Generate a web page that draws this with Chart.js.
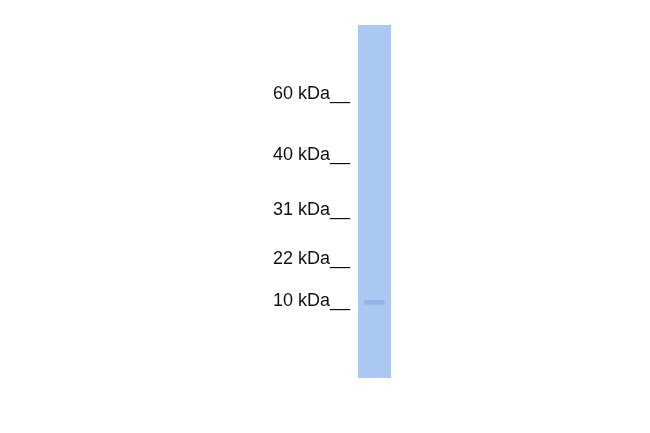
<!DOCTYPE html>
<html><head><meta charset="utf-8">
<script src="https://cdn.jsdelivr.net/npm/chart.js@4"></script>
<style>html,body{margin:0;padding:0;background:#fff}#w{width:650px;height:433px}</style>
</head><body><div id="w"><canvas id="c"></canvas></div>
<script>
// Marker sizes (kDa) and their relative migration (0 = top of lane, 1 = bottom)
const markerKDa = [60, 40, 31, 22, 10];
const markerMobility = [0.196, 0.367, 0.525, 0.662, 0.783];
const markerLabels = markerKDa.map(v => v + ' kDa__');
// Lane extent and observed band (relative migration)
const laneRange = [0, 1];
const bandRange = [0.779, 0.792];

new Chart(document.getElementById('c'), {
  type: 'bar',
  data: {
    labels: ['Lane'],
    datasets: [
      { data: [laneRange], backgroundColor: '#abc8f2', barPercentage: 1, categoryPercentage: 1, grouped: false, order: 2 },
      { data: [bandRange], backgroundColor: 'rgba(120,145,210,0.4)', barPercentage: 0.62, categoryPercentage: 1, grouped: false, order: 1 }
    ]
  },
  options: {
    responsive: true, maintainAspectRatio: false, animation: false,
    layout: { padding: { left: 268, right: 259, top: 25, bottom: 55 } },
    plugins: { legend: { display: false }, tooltip: { enabled: false } },
    scales: {
      x: { display: false },
      y: {
        reverse: true, min: 0, max: 1,
        grid: { display: false, drawTicks: false }, border: { display: false },
        afterFit: s => { s.width = 90; },
        afterBuildTicks: s => { s.ticks = markerMobility.map(v => ({ value: v })); },
        ticks: {
          padding: 8, color: '#111',
          font: { family: 'Liberation Sans, Arial, sans-serif', size: 18 },
          callback: (v) => { const i = markerMobility.indexOf(v); return i >= 0 ? markerLabels[i] : ''; }
        }
      }
    }
  }
});
</script></body></html>
